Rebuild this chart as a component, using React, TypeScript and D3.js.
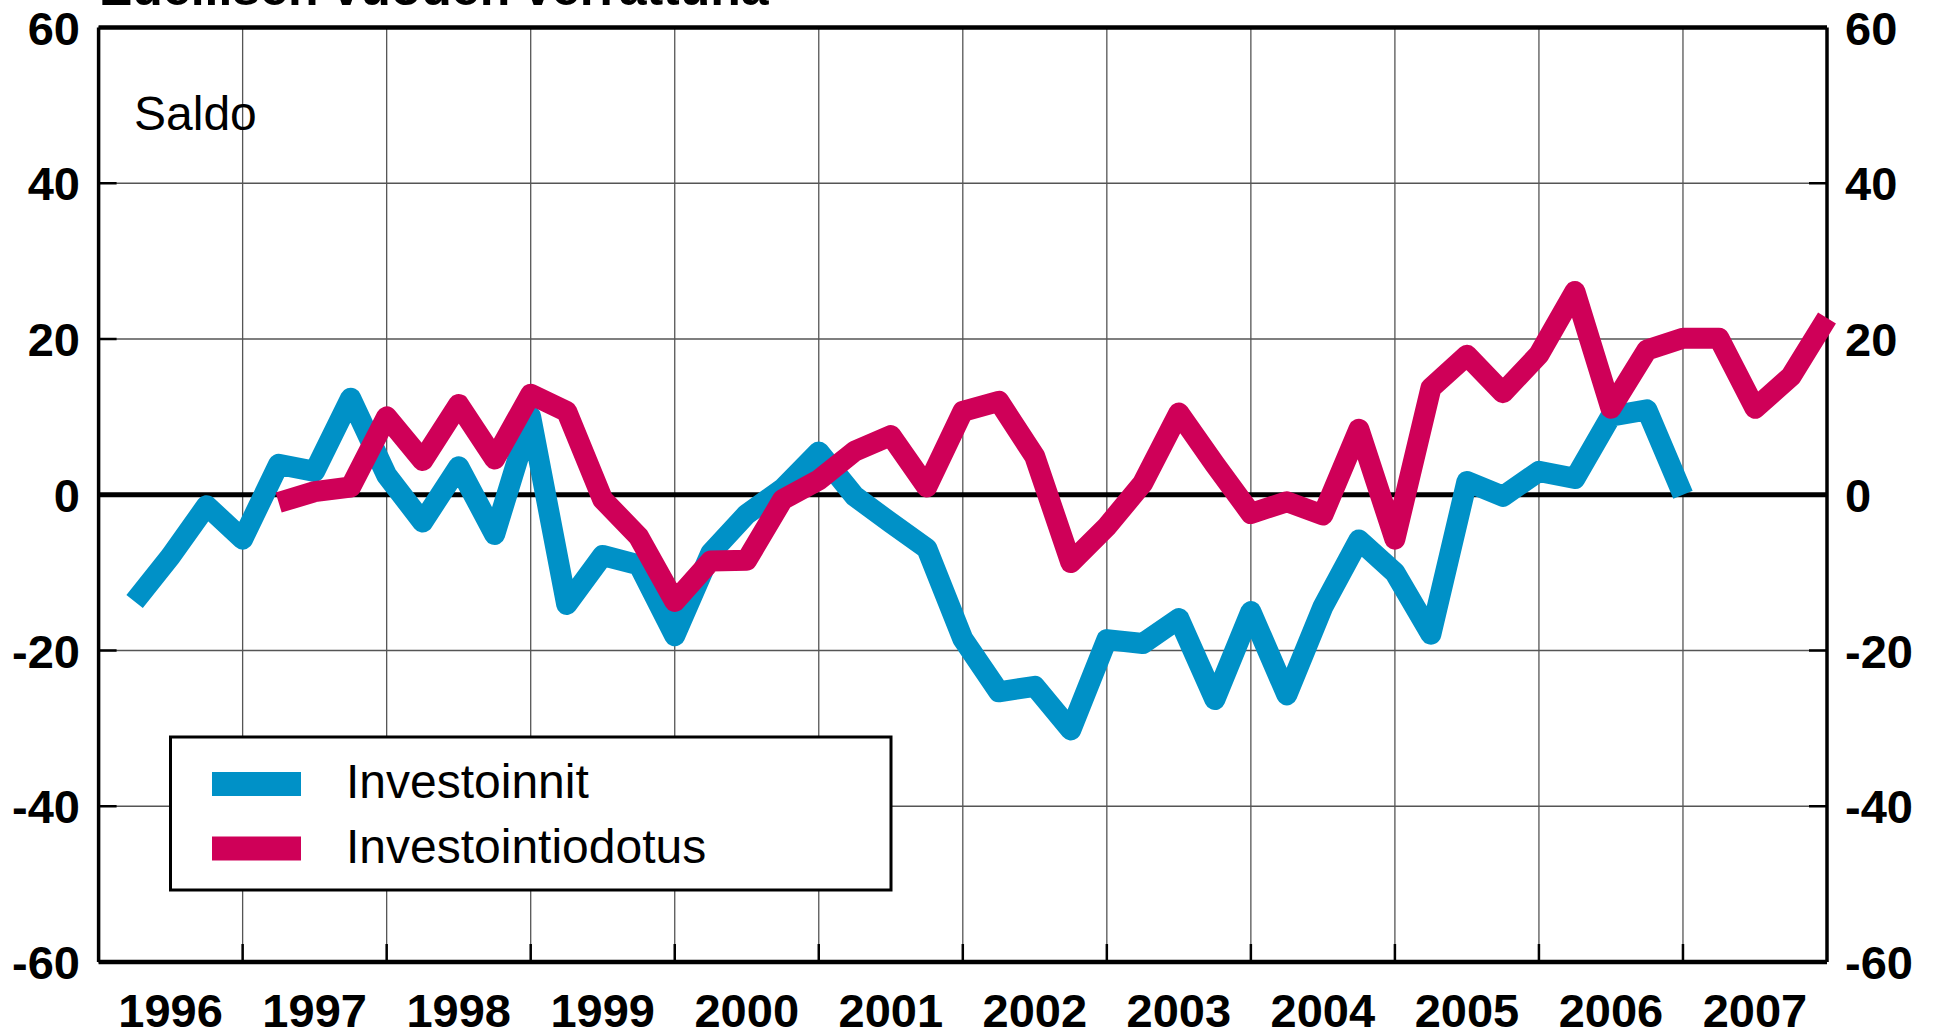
import React from "react";
import * as d3 from "d3";

const years = [1996, 1997, 1998, 1999, 2000, 2001, 2002, 2003, 2004, 2005, 2006, 2007];
const yTicks = [-60, -40, -20, 0, 20, 40, 60];

// Quarterly saldo values; first quarter index (quarters after start of 1996)
const investoinnitStart = 1;
const investoinnit = [
  -13.7, -7.9, -1.4, -5.7, 3.9, 3.0, 12.4, 2.5, -3.5, 3.6, -5.1, 10.0,
  -14.1, -7.8, -9.0, -18.1, -7.5, -2.5, 0.8, 5.5, -0.2, -3.6, -6.9, -18.5,
  -25.3, -24.6, -30.2, -18.6, -19.1, -15.9, -26.3, -15.0, -25.7, -14.4, -5.8, -10.0,
  -17.9, 1.7, -0.2, 3.0, 2.1, 10.1, 10.9, 0.0,
];
const odotusStart = 5;
const investointiodotus = [
  -1.0, 0.4, 1.0, 10.0, 4.4, 11.6, 4.6, 12.9, 10.7, -0.6, -5.4, -13.7,
  -8.5, -8.4, -0.6, 1.9, 5.6, 7.6, 1.0, 10.7, 12.0, 4.9, -8.7, -4.1,
  1.5, 10.5, 3.9, -2.4, -0.9, -2.6, 8.4, -5.7, 13.7, 17.9, 13.1, 18.0,
  26.1, 11.1, 18.6, 20.1, 20.1, 11.1, 15.2, 22.7,
];

const seriesNames = ["Investoinnit", "Investointiodotus"];
const colors = ["#0091C7", "#CF0058"];
const titleText = "Edellisen vuoden verrattuna";
const unitText = "Saldo";

const W = 1936;
const H = 1031;
const L = 98.6;
const R = 1827;
const T = 27.5;
const B = 962;

export default function App() {
  const x = d3.scaleLinear().domain([1996, 2008]).range([L, R]);
  const y = d3.scaleLinear().domain([-60, 60]).range([B, T]);
  const line = d3
    .line<[number, number]>()
    .x((d) => x(1996 + d[0] / 4))
    .y((d) => y(d[1]));
  const blue = investoinnit.map((v, i) => [investoinnitStart + i, v] as [number, number]);
  const red = investointiodotus.map((v, i) => [odotusStart + i, v] as [number, number]);
  const font = "'Liberation Sans', Arial, Helvetica, sans-serif";
  const boundaries = d3.range(1997, 2008);

  return (
    <svg
      width={W}
      height={H}
      style={{ position: "absolute", left: 0, top: 0, display: "block", background: "#fff" }}
      fontFamily={font}
    >
      <rect x={0} y={0} width={W} height={H} fill="#fff" />
      {/* title, partially cut off at top */}
      <text x={99} y={5} fontSize={50} fontWeight="bold" fill="#000">
        {titleText}
      </text>
      {/* gridlines */}
      {boundaries.map((yr) => (
        <line key={"gx" + yr} x1={x(yr)} x2={x(yr)} y1={T} y2={B} stroke="#555" strokeWidth={1.3} />
      ))}
      {yTicks.filter((v) => v !== 0 && Math.abs(v) !== 60).map((v) => (
        <line key={"gy" + v} x1={L} x2={R} y1={y(v)} y2={y(v)} stroke="#555" strokeWidth={1.3} />
      ))}
      {/* ticks */}
      {boundaries.map((yr) => (
        <line key={"tx" + yr} x1={x(yr)} x2={x(yr)} y1={B} y2={B - 18} stroke="#000" strokeWidth={2.5} />
      ))}
      {yTicks.map((v) => (
        <g key={"ty" + v}>
          <line x1={L} x2={L + 18} y1={y(v)} y2={y(v)} stroke="#000" strokeWidth={2.5} />
          <line x1={R} x2={R - 18} y1={y(v)} y2={y(v)} stroke="#000" strokeWidth={2.5} />
        </g>
      ))}
      {/* zero line */}
      <line x1={L} x2={R} y1={y(0)} y2={y(0)} stroke="#000" strokeWidth={5} />
      {/* axes frame */}
      <line x1={L} x2={R} y1={T} y2={T} stroke="#000" strokeWidth={4.5} />
      <line x1={L} x2={R} y1={B} y2={B} stroke="#000" strokeWidth={4.5} />
      <line x1={L} x2={L} y1={T} y2={B} stroke="#000" strokeWidth={3.5} />
      <line x1={R} x2={R} y1={T} y2={B} stroke="#000" strokeWidth={3.5} />
      {/* series */}
      <path d={line(blue) || ""} fill="none" stroke={colors[0]} strokeWidth={21} strokeLinejoin="round" strokeLinecap="butt" />
      <path d={line(red) || ""} fill="none" stroke={colors[1]} strokeWidth={21} strokeLinejoin="round" strokeLinecap="butt" />
      {/* y labels */}
      {yTicks.map((v) => (
        <g key={"yl" + v}>
          <text x={80} y={y(v) + 17} textAnchor="end" fontSize={47} fontWeight="bold" fill="#000">
            {v}
          </text>
          <text x={1845} y={y(v) + 17} textAnchor="start" fontSize={47} fontWeight="bold" fill="#000">
            {v}
          </text>
        </g>
      ))}
      {/* x labels */}
      {years.map((yr) => (
        <text key={"xl" + yr} x={x(yr + 0.5)} y={1027} textAnchor="middle" fontSize={47} fontWeight="bold" fill="#000">
          {yr}
        </text>
      ))}
      {/* unit label */}
      <text x={134} y={130} fontSize={48} fill="#000">
        {unitText}
      </text>
      {/* legend */}
      <rect x={170.5} y={737} width={720.5} height={153} fill="#fff" stroke="#000" strokeWidth={3} />
      {seriesNames.map((name, i) => (
        <g key={name}>
          <rect x={212} y={772 + i * 64.5} width={89} height={24} fill={colors[i]} />
          <text x={346} y={798 + i * 65} fontSize={48} fill="#000">
            {name}
          </text>
        </g>
      ))}
    </svg>
  );
}
